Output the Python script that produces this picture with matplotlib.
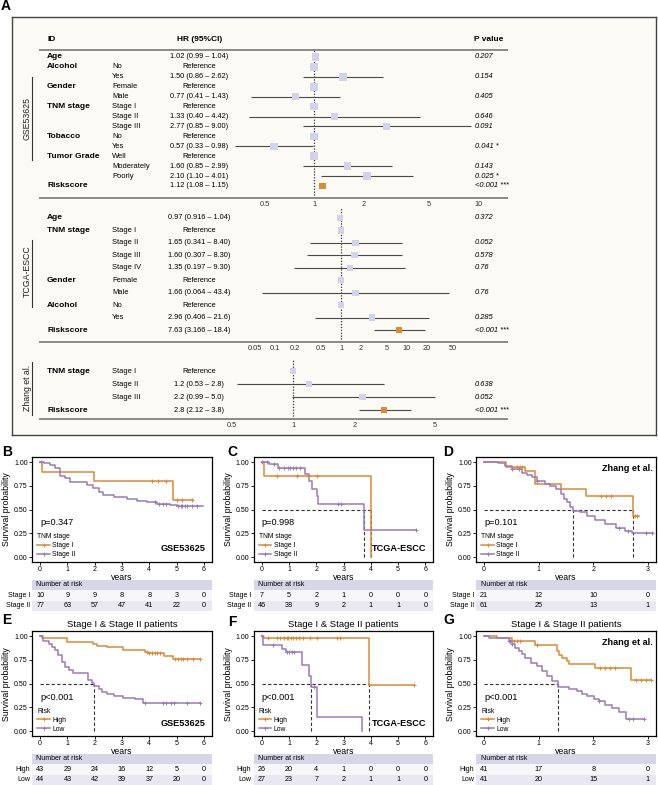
import numpy as np
import matplotlib.pyplot as plt
from matplotlib.lines import Line2D
from matplotlib.ticker import NullLocator
from matplotlib.transforms import blended_transform_factory

plt.rcParams['font.family'] = ['Liberation Sans', 'DejaVu Sans']
NARROW = ['Liberation Sans Narrow', 'Liberation Sans', 'DejaVu Sans']

ORANGE = '#dc8a36'
PURPLE = '#9a7bb8'
LAVENDER = '#d2d2e8'
BAND = '#d7d5e8'
ROW1 = '#f7f7fa'
ROW2 = '#e9e8f2'
nan = np.nan

# ---------------- panel A : forest data ----------------
gse_var = ["Age", "Alcohol", "", "Gender", "", "TNM stage", "", "", "Tobacco", "",
           "Tumor Grade", "", "", "Riskscore"]
gse_level = ["", "No", "Yes", "Female", "Male", "Stage I", "Stage II", "Stage III", "No", "Yes",
             "Well", "Moderately", "Poorly", ""]
gse_txt = ["1.02 (0.99 – 1.04)", "Reference", "1.50 (0.86 – 2.62)", "Reference", "0.77 (0.41 – 1.43)",
           "Reference", "1.33 (0.40 – 4.42)", "2.77 (0.85 – 9.00)", "Reference", "0.57 (0.33 – 0.98)",
           "Reference", "1.60 (0.85 – 2.99)", "2.10 (1.10 – 4.01)", "1.12 (1.08 – 1.15)"]
gse_hr = [1.02, 1, 1.50, 1, 0.77, 1, 1.33, 2.77, 1, 0.57, 1, 1.60, 2.10, 1.12]
gse_lo = [0.99, nan, 0.86, nan, 0.41, nan, 0.40, 0.85, nan, 0.33, nan, 0.85, 1.10, 1.08]
gse_hi = [1.04, nan, 2.62, nan, 1.43, nan, 4.42, 9.00, nan, 0.98, nan, 2.99, 4.01, 1.15]
gse_p = ["0.207", "", "0.154", "", "0.405", "", "0.646", "0.091", "", "0.041 *", "",
         "0.143", "0.025 *", "<0.001 ***"]
gse_ticks = [0.5, 1, 2, 5, 10]

tcga_var = ["Age", "TNM stage", "", "", "", "Gender", "", "Alcohol", "", "Riskscore"]
tcga_level = ["", "Stage I", "Stage II", "Stage III", "Stage IV", "Female", "Male", "No", "Yes", ""]
tcga_txt = ["0.97 (0.916 – 1.04)", "Reference", "1.65 (0.341 – 8.40)", "1.60 (0.307 – 8.30)",
            "1.35 (0.197 – 9.30)", "Reference", "1.66 (0.064 – 43.4)", "Reference",
            "2.96 (0.406 – 21.6)", "7.63 (3.166 – 18.4)"]
tcga_hr = [0.97, 1, 1.65, 1.60, 1.35, 1, 1.66, 1, 2.96, 7.63]
tcga_lo = [0.916, nan, 0.341, 0.307, 0.197, nan, 0.064, nan, 0.406, 3.166]
tcga_hi = [1.04, nan, 8.40, 8.30, 9.30, nan, 43.4, nan, 21.6, 18.4]
tcga_p = ["0.372", "", "0.052", "0.578", "0.76", "", "0.76", "", "0.285", "<0.001 ***"]
tcga_ticks = [0.05, 0.1, 0.2, 0.5, 1, 2, 5, 10, 20, 50]

zh_var = ["TNM stage", "", "", "Riskscore"]
zh_level = ["Stage I", "Stage II", "Stage III", ""]
zh_txt = ["Reference", "1.2 (0.53 – 2.8)", "2.2 (0.99 – 5.0)", "2.8 (2.12 – 3.8)"]
zh_hr = [1, 1.2, 2.2, 2.8]
zh_lo = [nan, 0.53, 0.99, 2.12]
zh_hi = [nan, 2.8, 5.0, 3.8]
zh_p = ["", "0.638", "0.052", "<0.001 ***"]
zh_ticks = [0.5, 1, 2, 5]

# ---------------- panels B-G : survival data ----------------
# each curve: step times, survival, last follow-up, censor times
b_stage1 = ([0, 0.06, 1.99, 4.86], [1.0, 0.9, 0.8, 0.6], 5.62, [4.09, 4.31, 4.62, 5.0, 5.19, 5.58])
b_stage2 = ([0, 0.15, 0.37, 0.55, 0.73, 0.92, 1.1, 1.46, 1.71, 1.95, 2.14, 2.32, 2.69, 3.18, 3.55,
             3.91, 4.27, 4.76, 5.0],
            [1.0, 0.985, 0.968, 0.933, 0.856, 0.83, 0.793, 0.786, 0.758, 0.723, 0.688, 0.653, 0.628,
             0.607, 0.589, 0.575, 0.554, 0.547, 0.537],
            5.98, [0.02, 4.2, 4.35, 4.5, 4.6, 5.05, 5.15, 5.2, 5.3, 5.4, 5.55, 5.75])
b_risk = [[10, 9, 9, 8, 8, 3, 0], [77, 63, 57, 47, 41, 22, 0]]

c_stage1 = ([0, 0.08, 4.02], [1.0, 0.857, 0.0], 4.02, [0.55, 1.29, 1.71, 2.02])
c_stage2 = ([0, 0.25, 0.61, 1.57, 1.75, 1.84, 2.02, 2.08, 3.74],
            [1.0, 0.98, 0.935, 0.87, 0.80, 0.72, 0.64, 0.56, 0.28],
            5.65, [0.02, 0.2, 0.45, 0.65, 0.8, 0.95, 1.05, 1.15, 1.25, 1.4, 2.8, 2.9, 5.65])
c_risk = [[7, 5, 2, 1, 0, 0, 0], [46, 38, 9, 2, 1, 1, 0]]

d_stage1 = ([0, 0.4, 0.75, 0.94, 1.40, 1.87, 2.72], [1.0, 0.952, 0.905, 0.77, 0.714, 0.643, 0.429],
            2.83, [0.6, 0.65, 0.7, 2.14, 2.23, 2.32, 2.77, 2.81])
d_stage2 = ([0, 0.26, 0.39, 0.51, 0.69, 0.78, 0.88, 0.97, 1.12, 1.21, 1.31, 1.40, 1.46, 1.52, 1.58,
             1.62, 1.76, 1.89, 2.04, 2.22, 2.41, 2.59, 2.71],
            [1.0, 0.985, 0.955, 0.93, 0.886, 0.858, 0.84, 0.805, 0.77, 0.75, 0.716, 0.663, 0.61,
             0.575, 0.523, 0.488, 0.47, 0.435, 0.39, 0.347, 0.305, 0.277, 0.255],
            3.1, [0.51, 0.63, 0.97, 2.47, 2.63, 2.96, 3.08])
d_risk = [[21, 12, 10, 0], [61, 25, 13, 1]]

e_high = ([0, 0.05, 0.98, 1.95, 2.08, 2.44, 3.05, 3.85, 3.95, 4.55, 4.88],
          [1.0, 0.977, 0.942, 0.92, 0.897, 0.884, 0.86, 0.835, 0.82, 0.79, 0.762],
          5.86, [3.9, 4.0, 4.1, 4.2, 4.3, 4.4, 4.95, 5.05, 5.15, 5.25, 5.4, 5.6, 5.86])
e_low = ([0, 0.12, 0.31, 0.43, 0.55, 0.67, 0.79, 0.92, 1.04, 1.22, 1.77, 1.89, 1.99, 2.14, 2.26,
          2.44, 2.69, 3.05, 3.48, 3.78],
         [1.0, 0.95, 0.92, 0.89, 0.85, 0.80, 0.726, 0.674, 0.64, 0.612, 0.534, 0.51, 0.477, 0.44,
          0.41, 0.39, 0.37, 0.35, 0.336, 0.295],
         5.86, [3.84, 4.5, 4.6, 4.8, 4.9, 5.4, 5.86])
e_risk = [[43, 29, 24, 16, 12, 5, 0], [44, 43, 42, 39, 37, 20, 0]]

f_high = ([0, 0.04, 3.94], [1.0, 0.976, 0.49], 5.6,
          [0.24, 0.55, 0.67, 0.8, 0.92, 0.98, 1.08, 1.16, 1.26, 1.35, 1.53, 1.78, 2.02, 2.76, 2.88, 5.6])
f_low = ([0, 0.05, 0.73, 0.9, 1.49, 1.75, 1.81, 2.02, 3.68],
         [1.0, 0.905, 0.867, 0.832, 0.70, 0.58, 0.465, 0.152, 0.0],
         3.68, [0.02, 0.43, 0.92, 1.01, 1.1, 1.2, 1.9])
f_risk = [[26, 20, 4, 1, 0, 0, 0], [27, 23, 7, 2, 1, 1, 0]]

g_high = ([0, 0.23, 0.51, 0.94, 1.34, 1.37, 1.43, 1.52, 1.55, 2.04, 2.70],
          [1.0, 0.976, 0.953, 0.906, 0.842, 0.807, 0.77, 0.74, 0.71, 0.668, 0.537],
          3.05, [0.55, 0.6, 0.65, 0.97, 2.13, 2.22, 2.31, 2.40, 2.78, 2.87, 2.96, 3.05])
g_low = ([0, 0.08, 0.45, 0.51, 0.57, 0.63, 0.69, 0.75, 0.85, 0.97, 1.06, 1.15, 1.24, 1.35, 1.55,
          1.70, 1.80, 1.89, 2.01, 2.10, 2.22, 2.35, 2.47, 2.60],
         [1.0, 0.976, 0.95, 0.913, 0.878, 0.842, 0.81, 0.772, 0.72, 0.684, 0.632, 0.579, 0.53,
          0.467, 0.44, 0.42, 0.39, 0.37, 0.34, 0.32, 0.275, 0.245, 0.2, 0.13],
         2.93, [0.45, 0.48, 0.51, 2.1, 2.65, 2.72, 2.93])
g_risk = [[41, 17, 8, 0], [41, 20, 15, 1]]

W, H = 658, 785
fig = plt.figure(figsize=(W / 100, H / 100), dpi=100)


def px_axes(x0, y0, x1, y1):
    return fig.add_axes([x0 / W, 1 - y1 / H, (x1 - x0) / W, (y1 - y0) / H])


# ---------------- panel A ----------------
bg = px_axes(12, 17, 656, 435)
bg.set_facecolor('#fcfaf4')
bg.set_xticks([])
bg.set_yticks([])
for sp in bg.spines.values():
    sp.set_color('#444444')
    sp.set_linewidth(1.0)

FL, FR = 40, 507


def fx(px):
    return (px - FL) / (FR - FL)


def forest(box, ylim, xlim, ticks, var, level, txt, hr, lo, hi, pvals, group, group_y, bracket,
           msize, top_line=False):
    ax = px_axes(FL, box[0], FR, box[1])
    ax.set_facecolor('none')
    ax.set_xscale('log')
    ax.set_xlim(*xlim)
    ax.set_ylim(*ylim)
    rows = np.arange(len(var))
    ax.axvline(1, color='#333333', lw=0.9, ls=(0, (1, 1.3)), zorder=1)
    ax.hlines(rows, lo, hi, color='#4a4a4a', lw=0.8, zorder=2)
    cols = [ORANGE if v == 'Riskscore' else LAVENDER for v in var]
    sizes = [(msize * 0.9) ** 2 if v == 'Riskscore' else msize ** 2 for v in var]
    ax.scatter(hr, rows, marker='s', s=sizes, c=cols, linewidths=0, zorder=3)
    tr = blended_transform_factory(ax.transAxes, ax.transData)
    for i in rows:
        ax.text(fx(47), i, var[i], transform=tr, fontsize=6, fontweight='bold', family=NARROW,
                va='center', ha='left')
        ax.text(fx(112), i, level[i], transform=tr, fontsize=5.4, family=NARROW, va='center')
        ax.text(fx(199), i, txt[i], transform=tr, fontsize=5.3, family=NARROW, va='center',
                ha='center')
        ax.text(fx(475), i, pvals[i], transform=tr, fontsize=5.4, family=NARROW, style='italic',
                va='center')
    ax.text(fx(27), group_y, group, transform=tr, rotation=90, fontsize=6.3, ha='center',
            va='center', color='#222222')
    ax.plot([fx(32), fx(32)], bracket, transform=tr, color='#333333', lw=0.8, clip_on=False)
    for name, sp in ax.spines.items():
        if name == 'bottom' or (name == 'top' and top_line):
            sp.set_color('#8a8a8a')
            sp.set_linewidth(1.4)
        else:
            sp.set_visible(False)
    ax.set_yticks([])
    ax.set_xticks(ticks)
    ax.set_xticklabels([f"{t:g}" for t in ticks])
    ax.xaxis.set_minor_locator(NullLocator())
    ax.tick_params(axis='x', length=0, labelsize=5.3, pad=2.5, labelcolor='#333333')
    return ax, tr


gse_ax, gse_tr = forest((50, 198), (14.21, -0.705), (0.0213, 15.0), gse_ticks, gse_var, gse_level,
                        gse_txt, gse_hr, gse_lo, gse_hi, gse_p, "GSE53625", 6.2, (2.0, 10.4), 5.4,
                        top_line=True)
for label, px, ha in [("ID", 47, 'left'), ("HR (95%CI)", 200, 'center'), ("P value", 474, 'left')]:
    gse_ax.text(fx(px), -1.81, label, transform=gse_tr, fontsize=6, fontweight='bold',
                family=NARROW, ha=ha, va='center')

forest((208, 342), (9.96, -0.80), (2.75e-5, 327), tcga_ticks, tcga_var, tcga_level, tcga_txt,
       tcga_hr, tcga_lo, tcga_hi, tcga_p, "TCGA-ESCC", 4.3, (1.77, 7.15), 4.5)
forest((360, 419), (3.69, -0.85), (0.0567, 11.3), zh_ticks, zh_var, zh_level, zh_txt,
       zh_hr, zh_lo, zh_hi, zh_p, "Zhang et al.", 1.3, (-0.7, 3.4), 4.6)


# ---------------- panels B-G ----------------
def km(box, tab_box, curves, names, legend_title, pval, cohort, cohort_top, xmax, risk, title=None):
    ax = px_axes(*box)
    tab = px_axes(*tab_box)
    colors = [ORANGE, PURPLE]
    meds = []
    for (t, s, end, cens), col in zip(curves, colors):
        t = np.asarray(t)
        s = np.asarray(s)
        ax.step(np.append(t, end), np.append(s, s[-1]), where='post', color=col, lw=1.1, zorder=3)
        idx = np.searchsorted(t, cens, side='right') - 1
        ax.plot(cens, s[idx], ls='none', marker='+', ms=3.2, mew=0.7, color=col, zorder=4)
        if s.min() <= 0.5:
            meds.append(t[np.argmax(s <= 0.5)])
    if meds:
        ax.plot([0, max(meds)], [0.5, 0.5], color='#333333', lw=0.8, ls=(0, (3, 2)), zorder=2)
        ax.vlines(meds, 0, 0.5, color='#333333', lw=0.8, ls=(0, (3, 2)), zorder=2)
    ax.set_xlim(-0.05 * xmax, 1.05 * xmax)
    ax.set_ylim(-0.05, 1.05)
    ax.set_xticks(range(xmax + 1))
    ax.set_yticks([0, 0.25, 0.5, 0.75, 1.0])
    ax.set_yticklabels(['0.00', '0.25', '0.50', '0.75', '1.00'])
    ax.tick_params(length=2, width=0.6, labelsize=5, pad=1)
    for sp in ax.spines.values():
        sp.set_linewidth(0.9)
    ax.set_xlabel('years', fontsize=6.3, labelpad=0)
    ax.set_ylabel('Survival probability', fontsize=6.3, labelpad=2)
    if title:
        ax.set_title(title, fontsize=6.8, pad=3.5)
    ax.text(0, 0.36, pval, fontsize=6.6, ha='left', va='center')
    ctr = blended_transform_factory(ax.transAxes, ax.transData)
    if cohort_top:
        ax.text(0.985, 0.93, cohort, transform=ctr, fontsize=6.6, fontweight='bold',
                ha='right', va='center')
    else:
        ax.text(0.962, 0.085, cohort, transform=ctr, fontsize=6.6, fontweight='bold',
                ha='right', va='center')
    handles = [Line2D([], [], color=c, lw=1.1, marker='+', ms=3.2, mew=0.7) for c in colors]
    ax.legend(handles, names, title=legend_title, loc='lower left', bbox_to_anchor=(0.0, -0.02),
              frameon=False, fontsize=4.9, title_fontsize=4.9, handlelength=1.8,
              handletextpad=0.35, labelspacing=0.3, borderpad=0.3, alignment='left')

    tab.set_xlim(-0.05 * xmax, 1.05 * xmax)
    tab.set_ylim(3, 0)
    tab.axhspan(0, 1, color=BAND, lw=0)
    tab.axhspan(1, 2, color=ROW1, lw=0)
    tab.axhspan(2, 3, color=ROW2, lw=0)
    ttr = blended_transform_factory(tab.transAxes, tab.transData)
    tab.text(0.025, 0.5, 'Number at risk', transform=ttr, fontsize=5, va='center')
    for r, (name, counts) in enumerate(zip(names, risk)):
        tab.text(-0.012, r + 1.5, name, transform=ttr, fontsize=5, ha='right', va='center')
        for tt, n in zip(range(xmax + 1), counts):
            tab.text(tt, r + 1.5, str(n), fontsize=5.2, ha='center', va='center')
    tab.axis('off')
    return ax


lefts = [32, 253.5, 476]
r1 = (457.25, 561.75, 579.5, 611)
r2 = (631.45, 735.95, 753.7, 785)
stage_names = ['Stage I', 'Stage II']
risk_names = ['High', 'Low']
ttl = 'Stage I & Stage II patients'

panels = [
    (0, r1, (b_stage1, b_stage2), stage_names, 'TNM stage', 'p=0.347', 'GSE53625', False, 6, b_risk, None),
    (1, r1, (c_stage1, c_stage2), stage_names, 'TNM stage', 'p=0.998', 'TCGA-ESCC', False, 6, c_risk, None),
    (2, r1, (d_stage1, d_stage2), stage_names, 'TNM stage', 'p=0.101', 'Zhang et al.', True, 3, d_risk, None),
    (0, r2, (e_high, e_low), risk_names, 'Risk', 'p<0.001', 'GSE53625', False, 6, e_risk, ttl),
    (1, r2, (f_high, f_low), risk_names, 'Risk', 'p<0.001', 'TCGA-ESCC', False, 6, f_risk, ttl),
    (2, r2, (g_high, g_low), risk_names, 'Risk', 'p<0.001', 'Zhang et al.', True, 3, g_risk, ttl),
]
for col, rr, curves, names, lt, pv, coh, top, xmax, risk, title in panels:
    x0 = lefts[col]
    km((x0, rr[0], x0 + 180, rr[1]), (x0, rr[2], x0 + 180, rr[3]), curves, names, lt, pv, coh, top,
       xmax, risk, title)

for letter, x, y in [('A', 6, 6), ('B', 7, 452), ('C', 232, 452), ('D', 448, 452),
                     ('E', 7, 620), ('F', 232, 622), ('G', 449, 620)]:
    fig.text(x / W, 1 - y / H, letter, fontsize=10, fontweight='bold', ha='center', va='center')

fig.savefig('out.png', dpi=100)
